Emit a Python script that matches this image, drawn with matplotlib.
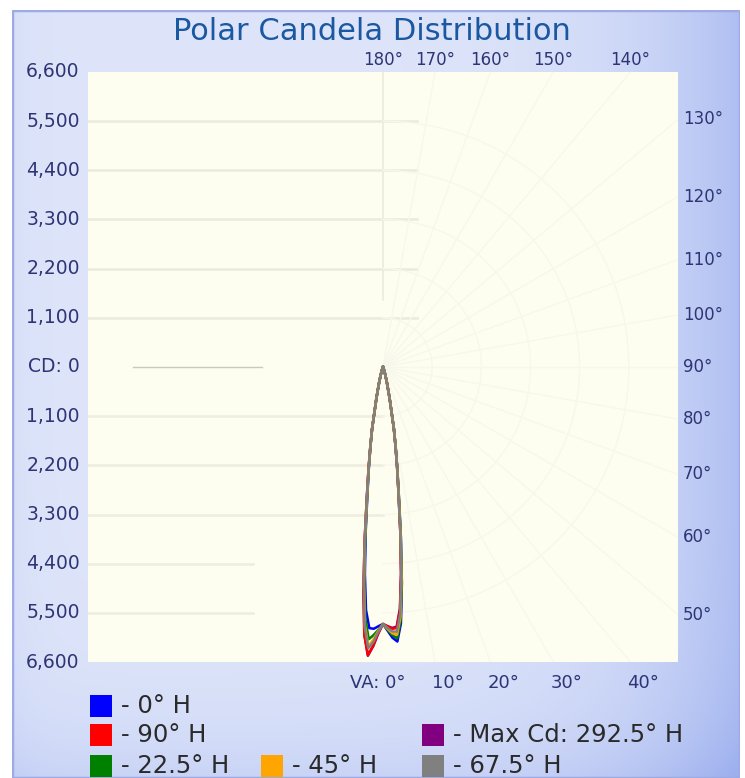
import numpy as np
import matplotlib
matplotlib.use('Agg')
import matplotlib.pyplot as plt
from matplotlib.patches import Rectangle
from matplotlib import transforms

# vertical angles (degrees from nadir) and candela per horizontal plane
va = [0, 1, 2, 3, 4, 5, 6, 7, 8, 9, 10,
      12, 14, 16, 18, 20, 25, 30, 40, 50, 60, 70, 80, 90, 180]

tail = [700, 360, 190, 105, 60, 30, 20, 10, 6, 4, 2, 1, 0, 0]
cd_0 = [5750, 5900, 6060, 6150, 5750, 4850, 3830, 2920, 2310, 1810, 1410] + tail
cd_180 = [5750, 5800, 5860, 5850, 5450, 4650, 3700, 2850, 2270, 1790, 1400] + tail
cd_90 = [5750, 5800, 5860, 5850, 5450, 4650, 3700, 2850, 2270, 1790, 1400] + tail
cd_270 = [5750, 5950, 6230, 6450, 6000, 5000, 3950, 3000, 2350, 1830, 1420] + tail
cd_22 = [5750, 5880, 6000, 6080, 5680, 4800, 3800, 2900, 2300, 1800, 1400] + tail
cd_202 = [5750, 5880, 6000, 6100, 5650, 4800, 3800, 2900, 2300, 1800, 1400] + tail
cd_45 = [5750, 5860, 5960, 6000, 5600, 4750, 3770, 2880, 2290, 1800, 1400] + tail
cd_225 = [5750, 5900, 6100, 6250, 5800, 4880, 3860, 2930, 2310, 1810, 1410] + tail
cd_67 = [5750, 5840, 5920, 5930, 5530, 4700, 3740, 2860, 2280, 1790, 1400] + tail
cd_247 = [5750, 5920, 6150, 6300, 5850, 4900, 3880, 2950, 2320, 1810, 1410] + tail
cd_112 = [5750, 5800, 5840, 5820, 5420, 4620, 3690, 2840, 2260, 1780, 1390] + tail
cd_292 = [5750, 5960, 6250, 6470, 6000, 5000, 3950, 3000, 2350, 1830, 1420] + tail

# (right side, left side, colour, legend label), in drawing order
curves = [
    (cd_112, cd_292, '#800080', '- Max Cd: 292.5° H'),
    (cd_0, cd_180, '#0000ff', '- 0° H'),
    (cd_90, cd_270, '#ff0000', '- 90° H'),
    (cd_22, cd_202, '#008000', '- 22.5° H'),
    (cd_45, cd_225, '#ffa500', '- 45° H'),
    (cd_67, cd_247, '#808080', '- 67.5° H'),
]

cd_max = 6600
cd_step = 1100
right_angles = [130, 120, 110, 100, 90, 80, 70, 60, 50]
top_angles = [180, 170, 160, 150, 140]
bottom_angles = [10, 20, 30, 40]

txt_col = '#2e3575'

fig = plt.figure(figsize=(7.45, 7.78), dpi=100)
fig.patch.set_facecolor('white')

# background panel with a soft blue gradient
bg = fig.add_axes([12 / 745, 0, 728 / 745, 768 / 778])
bg.axis('off')
gx = np.linspace(0, 1, 300)
gy = np.linspace(0, 1, 300)
X, Y = np.meshgrid(gx, gy)
w = 0.12 + 0.55 * X ** 6 + 0.25 * np.exp(-((1 - Y) / 0.08)) + 0.08 * np.exp(-(X / 0.03))
w = np.clip(w, 0, 1)
light = np.array([0.91, 0.93, 0.985])
blue = np.array([0.58, 0.66, 0.93])
img = light[None, None, :] * (1 - w[..., None]) + blue[None, None, :] * w[..., None]
bg.imshow(img, extent=[0, 1, 0, 1], origin='upper', aspect='auto')
bg.set_xlim(0, 1)
bg.set_ylim(0, 1)
bg.add_patch(Rectangle((0, 0), 1, 1, fill=False, edgecolor='#9eaae4', lw=2.5,
                       transform=bg.transAxes))

ax = fig.add_axes([88 / 745, 116 / 778, 590 / 745, 590 / 778])
ax.set_facecolor('#fdfdf0')
ax.set_xlim(-cd_max, cd_max)
ax.set_ylim(-cd_max, cd_max)
for s in ax.spines.values():
    s.set_visible(False)
ax.set_xticks([])
ax.set_yticks([])

# faint grid: horizontal lines on the left half, polar web on the right half
levels = np.arange(cd_step, cd_max, cd_step)
for lv in levels:
    ax.plot([-cd_max, 750], [lv, lv], color='#ebeadb', lw=1.8, zorder=1)
    end = 0 if lv < 4000 else -2900
    ax.plot([-cd_max, end], [-lv, -lv], color='#eeede0', lw=1.8, zorder=1)
ax.plot([-5600, -2700], [0, 0], color='#c9c9c0', lw=1.0, zorder=1)
ax.plot([0, 0], [1500, cd_max], color='#ecebdc', lw=1.2, zorder=1)
th = np.radians(np.linspace(0, 180, 181))
for lv in levels:
    ax.plot(lv * np.sin(th), -lv * np.cos(th), color='#f8f7eb', lw=1.0, zorder=1)
for a in range(10, 180, 10):
    r = np.radians(a)
    ax.plot([0, 2 * cd_max * np.sin(r)], [0, -2 * cd_max * np.cos(r)],
            color='#f8f7eb', lw=1.0, zorder=1)

# candela curves
ang = np.radians(va)
for right, left, col, lbl in curves:
    r_right = np.array(right, dtype=float)
    r_left = np.array(left, dtype=float)
    xs = np.concatenate([-(r_left * np.sin(ang))[::-1], r_right * np.sin(ang)])
    ys = np.concatenate([-(r_left * np.cos(ang))[::-1], -r_right * np.cos(ang)])
    ax.plot(xs, ys, color=col, lw=1.8, zorder=3, solid_joinstyle='round')

# candela labels on the left
ytr = ax.get_yaxis_transform()
for v in range(cd_max, -cd_max - 1, -cd_step):
    lbl = 'CD: 0' if v == 0 else f'{abs(v):,}'
    ax.text(-0.014, v, lbl, transform=ytr, ha='right', va='center',
            fontsize=13.5, color=txt_col, clip_on=False)

# angle labels on the right edge
for a in right_angles:
    r = np.radians(a)
    y = -cd_max * np.cos(r) / np.sin(r)
    ax.text(1.008, y, f'{a}°', transform=ytr, ha='left', va='center',
            fontsize=12, color=txt_col, clip_on=False)

# angle labels on the top edge
xtr = ax.get_xaxis_transform()
for a in top_angles:
    x = cd_max * np.tan(np.radians(180 - a))
    ax.text(x, 1.021, f'{a}°', transform=xtr, ha='center', va='center',
            fontsize=12, color=txt_col, clip_on=False)

# angle labels on the bottom edge
left_shift = transforms.offset_copy(xtr, fig=fig, x=-3, y=0, units='dots')
for a in bottom_angles:
    x = cd_max * np.tan(np.radians(a))
    ax.text(x, -0.036, f'{a}°', transform=left_shift, ha='left', va='center',
            fontsize=13, color=txt_col, clip_on=False)
va_shift = transforms.offset_copy(xtr, fig=fig, x=22, y=0, units='dots')
ax.text(0, -0.036, 'VA: 0°', transform=va_shift, ha='right', va='center',
        fontsize=13, color=txt_col, clip_on=False)

fig.text(372 / 745, 1 - 31 / 778, 'Polar Candela Distribution', ha='center',
         va='center', fontsize=22, color='#1b58a2')

# legend, laid out in three rows
leg_pos = {
    '- 0° H': (90, 706),
    '- 90° H': (90, 735),
    '- 22.5° H': (90, 766),
    '- 45° H': (261, 766),
    '- 67.5° H': (422, 766),
    '- Max Cd: 292.5° H': (422, 735),
}
W, H = 745.0, 778.0
for right, left, col, lbl in curves:
    px, py = leg_pos[lbl]
    fig.patches.append(Rectangle((px / W, 1 - (py + 11) / H), 22 / W, 22 / H,
                                 facecolor=col, edgecolor='none',
                                 transform=fig.transFigure, figure=fig))
    fig.text((px + 31) / W, 1 - py / H, lbl, ha='left', va='center',
             fontsize=17.5, color='#2a2a2a')

fig.savefig('out.png', dpi=100)
